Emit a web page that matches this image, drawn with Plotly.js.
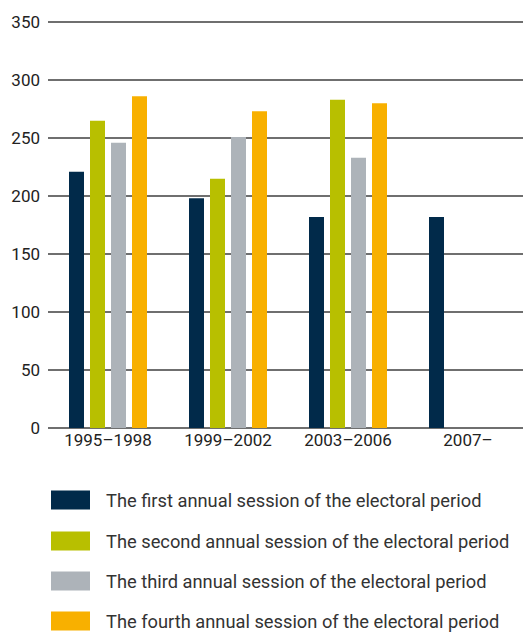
<!DOCTYPE html>
<html>
<head>
<meta charset="utf-8">
<script src="https://cdn.plot.ly/plotly-3.0.1.min.js"></script>
<style>html,body{margin:0;padding:0;background:#fff;}#chart{width:523px;height:633px;}</style>
</head>
<body>
<div id="chart"></div>
<script>
const periods = ["1995–1998", "1999–2002", "2003–2006", "2007–"];
const seriesNames = [
  "The first annual session of the electoral period",
  "The second annual session of the electoral period",
  "The third annual session of the electoral period",
  "The fourth annual session of the electoral period"
];
const firstSession  = [221, 198, 182, 182];
const secondSession = [265, 215, 283, null];
const thirdSession  = [246, 251, 233, null];
const fourthSession = [286, 273, 280, null];
const seriesColors = ["#012a4a", "#b8bf00", "#adb3b9", "#f8b000"];
const yTicks = [0, 50, 100, 150, 200, 250, 300, 350];

const seriesValues = [firstSession, secondSession, thirdSession, fourthSession];
const traces = seriesValues.map((vals, i) => ({
  type: "bar",
  x: periods,
  y: vals,
  name: seriesNames[i],
  marker: {color: seriesColors[i]},
  showlegend: false,
  hoverinfo: "x+y"
}));

// plot area geometry (pixels)
const W = 523, H = 633;
const mL = 48, mR = 0, mT = 18, mB = 205;
const plotW = W - mL - mR, plotH = H - mT - mB;
const px2paperX = px => (px - mL) / plotW;
const px2paperY = py => (H - mB - py) / plotH;

// custom legend: swatches + labels
const legendRowsY = [500, 541, 581, 621];
const shapes = [];
const annotations = [];
seriesNames.forEach((name, i) => {
  const cy = legendRowsY[i];
  shapes.push({
    type: "rect", xref: "paper", yref: "paper",
    x0: px2paperX(51), x1: px2paperX(90),
    y0: px2paperY(cy + 9.5), y1: px2paperY(cy - 9.5),
    fillcolor: seriesColors[i], line: {width: 0}
  });
  annotations.push({
    xref: "paper", yref: "paper",
    x: px2paperX(104), y: px2paperY(cy),
    xanchor: "left", yanchor: "middle",
    text: name, showarrow: false,
    font: {family: "Roboto, 'Open Sans', sans-serif", size: 18.3, color: "#333"}
  });
});

const layout = {
  width: W, height: H,
  margin: {l: mL, r: mR, t: mT, b: mB, pad: 0},
  paper_bgcolor: "#fff", plot_bgcolor: "#fff",
  barmode: "group",
  bargap: 0.3,
  bargroupgap: 0.286,
  font: {family: "Roboto, 'Open Sans', sans-serif", size: 17, color: "#222"},
  xaxis: {
    type: "category",
    range: [-0.5, -0.5 + plotW / 120],
    showgrid: false, zeroline: false, showline: false,
    ticks: "", ticklen: 0,
    tickfont: {size: 17, color: "#222"}
  },
  yaxis: {
    range: [0, 353.5],
    tickvals: yTicks,
    ticktext: yTicks.map(String),
    showgrid: true, gridcolor: "#6f6f6f", gridwidth: 1.5,
    zeroline: true, zerolinecolor: "#6f6f6f", zerolinewidth: 1.5,
    showline: false, ticks: "", ticklabelstandoff: 7,
    tickfont: {size: 17, color: "#222"}
  },
  shapes: shapes,
  annotations: annotations
};

Plotly.newPlot("chart", traces, layout, {displayModeBar: false, staticPlot: true});
</script>
</body>
</html>
